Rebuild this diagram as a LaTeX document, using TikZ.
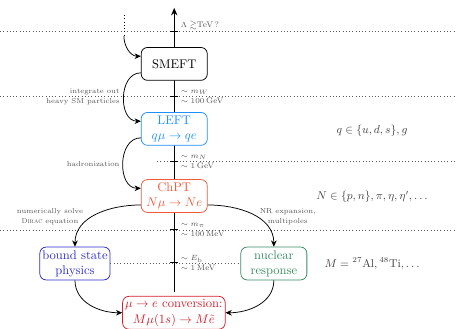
\documentclass[tikz,border=0pt]{standalone}
\usepackage{amsmath,amssymb}
\usepackage{tikz}
\usetikzlibrary{positioning}
\usetikzlibrary{arrows.meta}
\definecolor{leftblue}{RGB}{30,144,255}
\definecolor{chptred}{RGB}{245,90,60}
\definecolor{boundblue}{RGB}{45,45,205}
\definecolor{nucgreen}{RGB}{60,140,100}
\definecolor{convred}{RGB}{210,30,45}
\definecolor{labelgray}{RGB}{85,85,85}

\begin{document}
\begin{tikzpicture}[col/.style={draw=#1,text=#1},
	                tiny label/.style={font=\fontsize{5.7}{7.6}\selectfont,text=labelgray,inner sep=1pt},
	                scale label/.style={font=\fontsize{6.5}{8}\selectfont,text=labelgray,inner sep=1pt}]
	\useasboundingbox (0,0) rectangle (12.8,9.21);

	% scales
	\begin{scope}[every path/.style={draw=black!65, dotted, semithick}]
	    \coordinate (LtL) at (0,8.34);    \coordinate (LtR) at (12.8,8.34);
	    \coordinate (WL) at (0,6.50);     \coordinate (WR) at (12.8,6.50);
	    \coordinate (NL) at (4.40,4.68);  \coordinate (NR) at (12.8,4.68);
	    \coordinate (PiL) at (0,2.77);    \coordinate (PiR) at (12.8,2.77);
	    \path (LtL) -- (LtR);
	    \path (WL) -- (WR);
	    \path (NL) -- (NR);
	    \path (PiL) -- (PiR);
	\end{scope}

	% energy axis
	\coordinate (Abot) at (4.88,1.04);
	\coordinate (Atop) at (4.88,8.99);
	\coordinate (tLam) at (4.88,8.34);
	\coordinate (tW) at (4.88,6.50);
	\coordinate (tN) at (4.88,4.68);
	\coordinate (tPi) at (4.88,2.77);
	\coordinate (tB) at (4.88,1.85);
	\draw[thick, -{Stealth[length=6pt,width=5pt]}] (Abot) -- (Atop);
	\foreach \t in {tLam,tW,tN,tPi,tB}
	    \draw[thick] ([xshift=-3pt]\t) -- ([xshift=3pt]\t);

	\begin{scope}[every node/.style={draw,rounded corners=5pt,semithick,align=center,
	              minimum width=1.85cm,minimum height=0.92cm,inner sep=2pt,fill=white}]
	    \node (SMEFT) at (4.88,7.42) {SMEFT};
	    \node[col=leftblue] (LEFT) at (4.88,5.60) {LEFT\\$q\mu\to qe$};
	    \node[col=chptred] (ChPT) at (4.88,3.72) {ChPT\\$N\mu\to Ne$};
	    \node[col=boundblue] (bound) at (2.10,1.83) {bound state\\physics};
	    \node[col=nucgreen] (nuc) at (7.67,1.83) {nuclear\\response};
	    \node[col=convred] (conv) at (4.87,0.45) {$\mu\to e$ conversion:\\[1pt]$M\mu(1s)\to M\tilde{e}$};
	\end{scope}

	\path[draw=black!65, dotted, semithick] (bound.east) -- (nuc.west);

	\begin{scope}[every node/.style={scale label,align=left}]
	    \node[anchor=south west] (sLam) at ([xshift=4pt]tLam) {$\Lambda\gtrsim$TeV\,?};
	    \node[anchor=west] (sW) at ([xshift=4pt]tW) {$\sim m_W$\\$\sim 100\,$GeV};
	    \node[anchor=west] (sN) at ([xshift=4pt]tN) {$\sim m_N$\\$\sim 1\,$GeV};
	    \node[anchor=west] (sPi) at ([xshift=4pt]tPi) {$\sim m_\pi$\\$\sim 100\,$MeV};
	    \node[anchor=west] (sB) at ([xshift=4pt]tB) {$\sim E_{\rm b}$\\$\sim 1\,$MeV};
	\end{scope}

	% steps
	\begin{scope}[every node/.style={tiny label,align=center}]
	    \node[anchor=east,align=right] (integ) at (3.39,6.50) {integrate out\\heavy SM particles};
	    \node[anchor=east] (hadr) at (3.39,4.62) {hadronization};
	    \node (dirac) at (1.40,3.14) {numerically solve\\\textsc{Dirac} equation};
	    \node (nrexp) at (8.06,3.14) {NR expansion,\\multipoles};
	\end{scope}

	\begin{scope}[every node/.style={text=black!75,font=\small}]
	    \node (qset) at (10.42,5.54) {$q\in\{u,d,s\},g$};
	    \node (Nset) at (10.42,3.70) {$N\in\{p,n\},\pi,\eta,\eta',\ldots$};
	    \node (Mset) at (10.42,1.82) {$M={}^{27}$Al$,{}^{48}$Ti$,\ldots$};
	\end{scope}

	\coordinate (inTop) at (3.47,8.79);
	\coordinate (inMid) at (3.47,8.20);
	\draw[dotted, semithick] (inTop) -- (inMid);

	\begin{scope}[>={Stealth[black,length=5pt,width=4.5pt]},
	              every edge/.style={draw=black,semithick}]
    	\path [->] (inMid) edge [out=-90,in=180] (SMEFT.167);
    	\path [->] (SMEFT.195) edge [out=180,in=180,looseness=1.2] (LEFT.167);
    	\path [->] (LEFT.195) edge [out=180,in=180,looseness=1.2] (ChPT.167);
    	\path [->] (ChPT.195) edge [out=180,in=90] (bound.north);
    	\path [->] (ChPT.345) edge [out=0,in=90] (nuc.north);
    	\path [->] (bound.south) edge [out=-90,in=180] (conv.west);
    	\path [->] (nuc.south) edge [out=-90,in=0] (conv.east);
	\end{scope}
\end{tikzpicture}
\end{document}
